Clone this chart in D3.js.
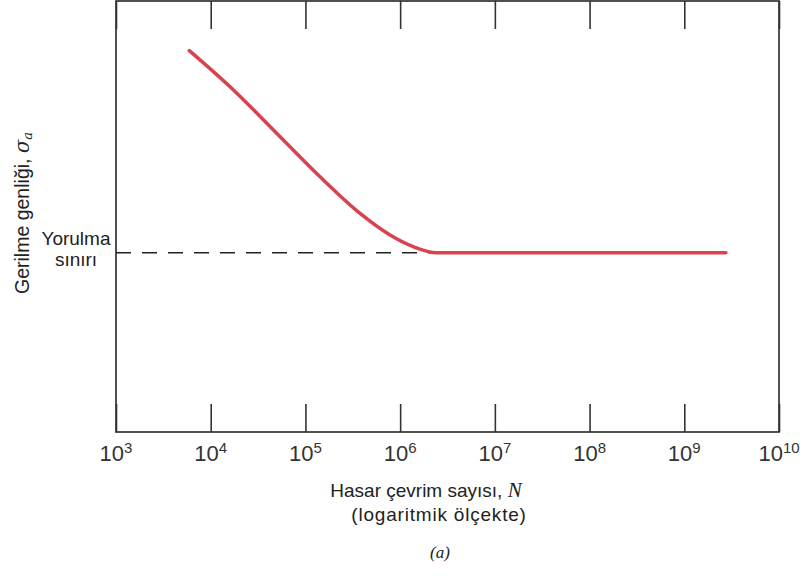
<!DOCTYPE html>
<html>
<head>
<meta charset="utf-8">
<script src="https://cdn.jsdelivr.net/npm/d3@7"></script>
<style>
  body { margin: 0; background: #fff; }
  svg { display: block; }
  text { font-family: "Liberation Sans", Arial, sans-serif; fill: #222; }
</style>
</head>
<body>
<div class="container"></div>
<script>
// S-N egrisi: cevrim sayisi (log) ve gerilme genligi (birimsiz)
var cycles = [5940, 16000, 54000, 142600, 377700, 781600, 1377000, 2430000, 2750000000];
var stress = [88.5, 80.1, 68.5, 59.2, 50.7, 45.7, 43.0, 41.6, 41.6];
var fatigueLimit = 41.6;
var tickExponents = [3, 4, 5, 6, 7, 8, 9, 10];

!function () {
    var width = 810, height = 576;
    var left = 116, right = 779, top = 1, bottom = 432;

    var svg = d3.select('.container')
        .append('svg')
        .attr('width', width)
        .attr('height', height);

    var x = d3.scaleLog()
        .domain([1e3, 1e10])
        .range([left, right]);

    var y = d3.scaleLinear()
        .domain([0, 100])
        .range([bottom, top]);

    var tickVals = tickExponents.map(function (e) { return Math.pow(10, e); });

    // kutu
    svg.append('rect')
        .attr('x', left)
        .attr('y', top)
        .attr('width', right - left)
        .attr('height', bottom - top)
        .attr('fill', 'none')
        .attr('stroke', '#333')
        .attr('stroke-width', 1.7);

    // alt eksen, tikler iceri dogru
    var bottomAxis = d3.axisBottom(x)
        .tickValues(tickVals)
        .tickSizeInner(-28)
        .tickSizeOuter(0)
        .tickFormat('');

    var gb = svg.append('g')
        .attr('transform', 'translate(0,' + bottom + ')')
        .call(bottomAxis);
    gb.select('.domain').remove();
    gb.selectAll('.tick line').attr('stroke', '#333').attr('stroke-width', 1.6);

    var topAxis = d3.axisTop(x)
        .tickValues(tickVals)
        .tickSizeInner(-28)
        .tickSizeOuter(0)
        .tickFormat('');

    var gt = svg.append('g')
        .attr('transform', 'translate(0,' + top + ')')
        .call(topAxis);
    gt.select('.domain').remove();
    gt.selectAll('.tick line').attr('stroke', '#333').attr('stroke-width', 1.6);

    // tik etiketleri 10^n
    var lbl = svg.selectAll('text.tl')
        .data(tickExponents)
        .enter()
        .append('text')
        .attr('class', 'tl')
        .attr('x', function (d) { return x(Math.pow(10, d)); })
        .attr('y', 461)
        .attr('text-anchor', 'middle')
        .style('font-size', '22px')
        .style('fill', '#333');
    lbl.append('tspan').text('10');
    lbl.append('tspan')
        .attr('dy', -8)
        .style('font-size', '15px')
        .text(function (d) { return d; });

    // yorulma siniri kesikli cizgi
    svg.append('line')
        .attr('x1', left)
        .attr('x2', x(cycles[cycles.length - 2]))
        .attr('y1', y(fatigueLimit))
        .attr('y2', y(fatigueLimit))
        .attr('stroke', '#222')
        .attr('stroke-width', 1.5)
        .attr('stroke-dasharray', '15,11');

    // egri
    var line = d3.line()
        .x(function (d, i) { return x(cycles[i]); })
        .y(function (d) { return y(d); })
        .curve(d3.curveMonotoneX);

    svg.append('path')
        .datum(stress)
        .attr('d', line)
        .attr('fill', 'none')
        .attr('stroke', '#d9434f')
        .attr('stroke-width', 3.5)
        .attr('stroke-linecap', 'round');

    // Yorulma siniri etiketi
    svg.append('text')
        .attr('x', 76).attr('y', 245)
        .attr('text-anchor', 'middle')
        .style('font-size', '19px')
        .text('Yorulma');
    svg.append('text')
        .attr('x', 76).attr('y', 266)
        .attr('text-anchor', 'middle')
        .style('font-size', '19px')
        .text('sınırı');

    // y ekseni basligi
    var yt = svg.append('text')
        .attr('transform', 'translate(29,294) rotate(-90)')
        .style('font-size', '19.5px');
    yt.append('tspan').text('Gerilme genliği, ');
    yt.append('tspan')
        .style('font-family', '"DejaVu Serif", serif')
        .style('font-style', 'italic')
        .text('σ');
    yt.append('tspan')
        .attr('dy', 3)
        .style('font-family', '"DejaVu Serif", serif')
        .style('font-style', 'italic')
        .style('font-size', '13px')
        .text('a');

    // x ekseni basligi
    var xt = svg.append('text')
        .attr('x', 426).attr('y', 497)
        .attr('text-anchor', 'middle')
        .style('font-size', '19px');
    xt.append('tspan').text('Hasar çevrim sayısı, ');
    xt.append('tspan')
        .style('font-family', '"Liberation Serif", serif')
        .style('font-style', 'italic')
        .style('font-size', '21px')
        .text('N');

    svg.append('text')
        .attr('x', 439).attr('y', 521)
        .attr('text-anchor', 'middle')
        .style('font-size', '19px')
        .style('letter-spacing', '0.8px')
        .text('(logaritmik ölçekte)');

    svg.append('text')
        .attr('x', 440).attr('y', 558)
        .attr('text-anchor', 'middle')
        .style('font-family', '"Liberation Serif", serif')
        .style('font-style', 'italic')
        .style('font-size', '17px')
        .text('(a)');
}();
</script>
</body>
</html>
